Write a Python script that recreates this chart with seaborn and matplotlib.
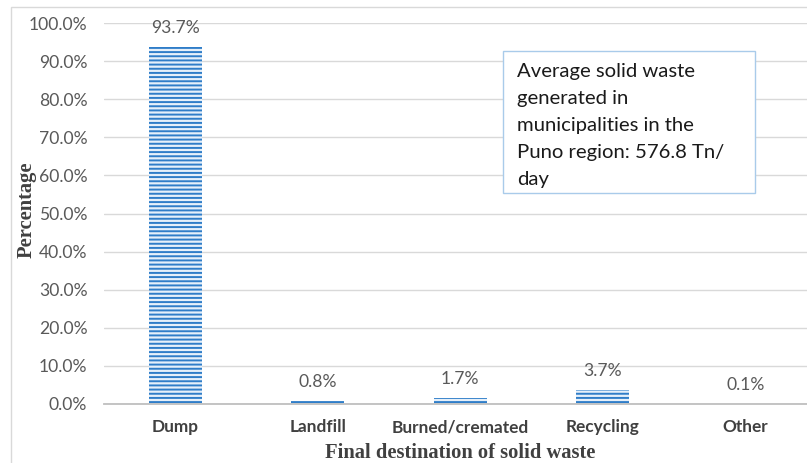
import matplotlib
matplotlib.use("Agg")
import matplotlib.pyplot as plt
from matplotlib.patches import Rectangle
from matplotlib.ticker import FuncFormatter, MultipleLocator
import seaborn as sns
import pandas as pd

# Final destination of municipal solid waste, Puno region
categories = ["Dump", "Landfill", "Burned/cremated", "Recycling", "Other"]
shares = [93.7, 0.8, 1.7, 3.7, 0.1]
value_labels = ["93.7%", "0.8%", "1.7%", "3.7%", "0.1%"]
note_text = ("Average solid waste\ngenerated in\nmunicipalities in the\n"
             "Puno region: 576.8 Tn/\nday")

df = pd.DataFrame({"destination": categories, "share": [s / 100 for s in shares]})

sns.set_theme(style="white")
plt.rcParams["font.family"] = ["Lato", "DejaVu Sans"]
plt.rcParams["hatch.linewidth"] = 1.4

W, H = 807, 463
fig = plt.figure(figsize=(W / 100, H / 100), dpi=100)
ax = fig.add_axes([104 / W, 1 - 404 / H, 712.5 / W, 381 / H])

sns.barplot(data=df, x="destination", y="share", ax=ax, width=0.37,
            color="#E6F0FA", edgecolor="#2F7DC8", linewidth=0, hatch="----",
            saturation=1)

ax.set_ylim(0, 1.0)
ax.set_xlim(-0.5, 4.5)
ax.yaxis.set_major_locator(MultipleLocator(0.1))
ax.yaxis.set_major_formatter(FuncFormatter(lambda v, _: f"{v * 100:.1f}%"))
ax.grid(axis="y", color="#D9D9D9", linewidth=1)
ax.set_axisbelow(True)
for side in ("top", "right", "left"):
    ax.spines[side].set_visible(False)
ax.spines["bottom"].set_color("#BFBFBF")
ax.spines["bottom"].set_linewidth(1.3)

ax.tick_params(axis="y", length=0, pad=12, labelsize=12.6, labelcolor="#595959")
ax.tick_params(axis="x", length=0, pad=11, labelsize=12.4, labelcolor="#404040")
for t in ax.get_xticklabels():
    t.set_fontweight("bold")

# value labels above each bar
for i, (v, lab) in enumerate(zip(df["share"], value_labels)):
    ax.annotate(lab, (i, v), xytext=(0, 19), textcoords="offset pixels",
                ha="center", va="center", fontsize=12.6, color="#595959")

ax.set_ylabel("Percentage", family="Liberation Serif", fontweight="bold",
              fontsize=14.8, color="#404040")
ax.yaxis.set_label_coords((37 - 104) / 712.5, (404 - 210) / 381)
ax.set_xlabel("Final destination of solid waste", family="Liberation Serif",
              fontweight="bold", fontsize=14.8, color="#404040")
ax.xaxis.set_label_coords((460 - 104) / 712.5, -(443 - 404) / 381)

# annotation box
fig.patches.append(Rectangle((503 / W, 1 - 193 / H), 252 / W, 142 / H,
                             transform=fig.transFigure, fill=True,
                             facecolor="white", edgecolor="#A9CBEA",
                             linewidth=1, zorder=5))
fig.text(517 / W, 1 - 63 / H, note_text, ha="left", va="top", fontsize=14.6,
         color="#1a1a1a", linespacing=1.72, zorder=6)

# chart frame
fig.patches.append(Rectangle((11 / W, -0.05), 1.1, 1 - 7 / H + 0.05,
                             transform=fig.transFigure, fill=False,
                             edgecolor="#D9D9D9", linewidth=1))

fig.savefig("out.png", dpi=100)
